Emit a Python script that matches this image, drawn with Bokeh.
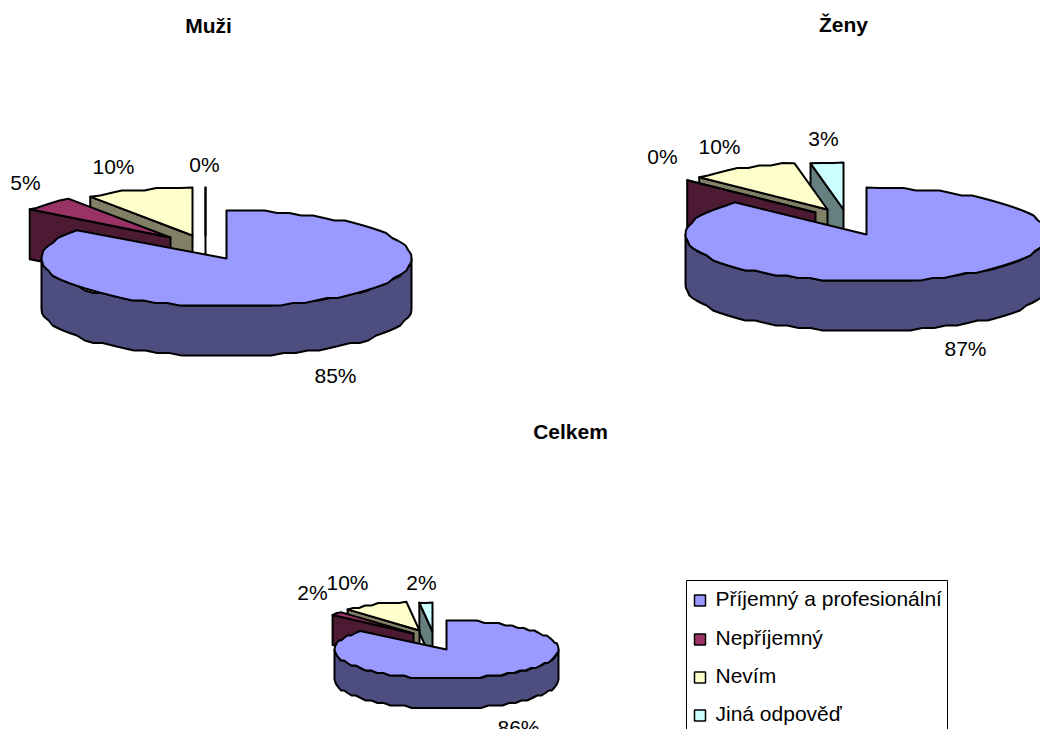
import math

from bokeh.core.properties import value
from bokeh.embed import file_html
from bokeh.plotting import figure
from bokeh.resources import INLINE

# Survey answers, in percent, per group
categories = ["Příjemný a profesionální", "Nepříjemný", "Nevím", "Jiná odpověď"]
muzi = [85, 5, 10, 0]
zeny = [87, 0, 10, 3]
celkem = [86, 2, 10, 2]

top_colors = ["#9999FF", "#993366", "#FFFFCC", "#CCFFFF"]
side_colors = ["#4D4D80", "#4D1A33", "#808066", "#668080"]

FONT = "Liberation Sans"
TEXT_PX = "21px"
TITLE_PX = "21px"

# Layout of each pie in page pixels: ellipse radii (exploded slices are drawn
# slightly narrower), extrusion depth, each slice's apex, label positions
pies = [
    dict(title="Muži", title_at=(208, 25), values=muzi, rx=185, rx_back=174, ry=48, depth=50,
         apex=[(226, 258), (170, 237), (192, 235), (205, 235)],
         labels=[(335, 375), (25, 182), (113, 166), (204, 164)]),
    dict(title="Ženy", title_at=(843, 24), values=zeny, rx=181, rx_back=176, ry=47, depth=50,
         apex=[(866, 234), (815, 212), (827, 209), (843, 209)],
         labels=[(965, 348), (662, 156), (719, 146), (823, 138)]),
    dict(title="Celkem", title_at=(570, 431), values=celkem, rx=112, rx_back=105, ry=29, depth=30,
         apex=[(446, 649), (413, 633), (419, 630), (432, 631)],
         labels=[(518, 727), (312, 592), (347, 582), (421, 582)]),
]


def snap(x, y, grid_y=2.5):
    """Coarse vertical rounding, which gives the curves their stepped outline."""
    return x, round(y / grid_y) * grid_y


def rim(cx, cy, rx, ry, a0, a1, step=4.0):
    """Points on the ellipse, angles in degrees clockwise from twelve o'clock."""
    n = max(1, int(math.ceil((a1 - a0) / step)))
    pts = []
    for i in range(n + 1):
        a = math.radians(a0 + (a1 - a0) * i / n)
        x, y = cx + rx * math.sin(a), cy - ry * math.cos(a)
        pts.append((x, y) if i in (0, n) else snap(x, y))
    return pts


p = figure(width=1040, height=729, x_range=(0, 1040), y_range=(729, 0),
           output_backend="svg", toolbar_location=None, min_border=0,
           background_fill_color="white", border_fill_color="white",
           outline_line_color=None)
p.axis.visible = False
p.grid.visible = False


def poly(pts, color, width):
    p.patch([q[0] for q in pts], [q[1] for q in pts], fill_color=color,
            line_color="black", line_width=width, line_join="round")


for pie in pies:
    total = sum(pie["values"])
    ry, depth = pie["ry"], pie["depth"]

    # Cumulative slice angles, clockwise from twelve o'clock
    spans = []
    start = 0.0
    for v in pie["values"]:
        end = start + 360.0 * v / total
        spans.append((start, end))
        start = end

    # Back slices first, the large front slice last
    for i in reversed(range(len(spans))):
        a0, a1 = spans[i]
        cx, cy = pie["apex"][i]
        rx = pie["rx"] if i == 0 else pie["rx_back"]
        outline = rim(cx, cy, rx, ry, a0, a1)
        if i == 0:
            # Curved front wall of the main slice
            front = rim(cx, cy, rx, ry, max(a0, 90), min(a1, 270))
            wall = front + [(x, y + depth) for x, y in reversed(front)]
            poly(wall, side_colors[i], 2)
        else:
            # Cut face along the slice's leading edge
            ex, ey = outline[0]
            face = [(cx, cy), (ex, ey), (ex, ey + depth), (cx, cy + depth)]
            poly(face, side_colors[i], 2)
        poly([(cx, cy)] + outline, top_colors[i], 2)

    # Percentage labels
    for (x, y), v in zip(pie["labels"], pie["values"]):
        p.text([x], [y], text=[f"{v}%"], text_font=value(FONT), text_font_size=TEXT_PX,
               text_align="center", text_baseline="middle", text_color="black")

    p.text([pie["title_at"][0]], [pie["title_at"][1]], text=[pie["title"]],
           text_font=value(FONT), text_font_size=TITLE_PX, text_font_style="bold",
           text_align="center", text_baseline="middle", text_color="black")

# Legend box runs past the bottom of the page
p.quad(left=[686], right=[947], top=[580], bottom=[760], fill_color="white",
       line_color="black", line_width=1)
legend_rows = [600, 639, 677, 715]
for name, color, y in zip(categories, top_colors, legend_rows):
    p.quad(left=[694], right=[705], top=[y - 5.5], bottom=[y + 5.5], fill_color=color,
           line_color="black", line_width=1.5)
    p.text([715], [y - 2], text=[name], text_font=value(FONT), text_font_size=TEXT_PX,
           text_align="left", text_baseline="middle", text_color="black")

open("out.html", "w").write(file_html(p, INLINE))
